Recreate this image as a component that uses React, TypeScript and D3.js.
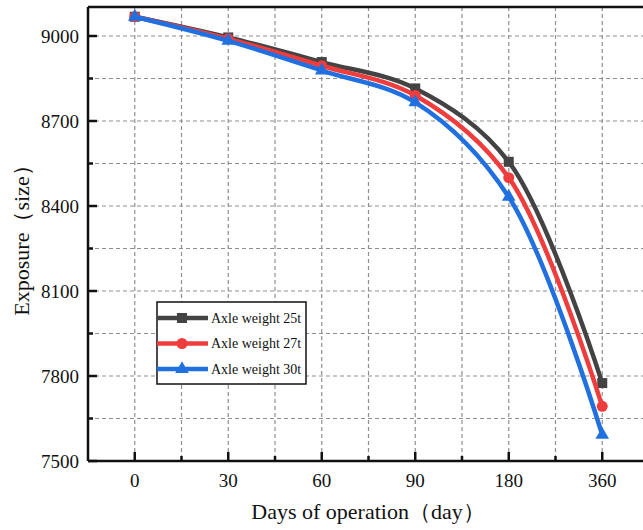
import React from "react";
import * as d3 from "d3";

const days = ["0", "30", "60", "90", "180", "360"];
const weight25 = [9068, 8995, 8908, 8815, 8556, 7775];
const weight27 = [9068, 8990, 8895, 8790, 8500, 7693];
const weight30 = [9068, 8983, 8878, 8766, 8432, 7592];
const seriesNames = ["Axle weight 25t", "Axle weight 27t", "Axle weight 30t"];
const yMajorTicks = [7500, 7800, 8100, 8400, 8700, 9000];

const W = 643;
const H = 530;

export default function App() {
  const x = d3.scaleLinear().domain([-0.5, 5.5]).range([88, 649]);
  const y = d3.scaleLinear().domain([7500, 9000]).range([461, 36]);
  const yTop = y(9102);

  const series = [
    { name: seriesNames[0], values: weight25, color: "#434343", marker: "square" },
    { name: seriesNames[1], values: weight27, color: "#ef3d3d", marker: "circle" },
    { name: seriesNames[2], values: weight30, color: "#2170e0", marker: "triangle" },
  ];

  const line = d3
    .line<number>()
    .x((_, i) => x(i))
    .y((d) => y(d))
    .curve(d3.curveCatmullRom.alpha(0.5));

  const gridY = d3.range(7650, 9001, 150);
  const gridX = d3.range(0, 5.01, 0.5);
  const minorY = d3.range(7650, 9001, 300);
  const minorX = d3.range(0.5, 5, 1);

  const marker = (type: string, cx: number, cy: number, color: string, key: string) => {
    if (type === "square")
      return <rect key={key} x={cx - 5} y={cy - 5} width={10} height={10} fill={color} />;
    if (type === "circle") return <circle key={key} cx={cx} cy={cy} r={5.5} fill={color} />;
    const sym = d3.symbol().type(d3.symbolTriangle).size(80)();
    return <path key={key} d={sym || ""} transform={`translate(${cx},${cy})`} fill={color} />;
  };

  const font = "'Liberation Serif', 'Times New Roman', serif";
  const legendX = 157;
  const legendY = 302;

  return (
    <svg
      width={W}
      height={H}
      style={{ position: "absolute", left: 0, top: 0, background: "white" }}
      fontFamily={font}
    >
      {/* grid */}
      <g stroke="#8f8f8f" strokeWidth={1.2} strokeDasharray="4,3">
        {gridY.map((v) => (
          <line key={"gy" + v} x1={x(-0.5)} x2={W} y1={y(v)} y2={y(v)} />
        ))}
        {gridX.map((v) => (
          <line key={"gx" + v} x1={x(v)} x2={x(v)} y1={yTop} y2={y(7500)} />
        ))}
      </g>

      {/* frame */}
      <line x1={x(-0.5)} x2={W} y1={yTop} y2={yTop} stroke="#111" strokeWidth={2.5} />
      <line x1={x(-0.5)} x2={W} y1={y(7500)} y2={y(7500)} stroke="#111" strokeWidth={2.5} />
      <line x1={x(-0.5)} x2={x(-0.5)} y1={yTop} y2={y(7500)} stroke="#111" strokeWidth={2.5} />

      {/* y ticks */}
      {yMajorTicks.map((v) => (
        <g key={"yt" + v}>
          <line x1={x(-0.5)} x2={x(-0.5) + 9} y1={y(v)} y2={y(v)} stroke="#111" strokeWidth={2.5} />
          <text x={79} y={y(v)} dy="0.35em" textAnchor="end" fontSize={19} fill="#111">
            {v}
          </text>
        </g>
      ))}
      {minorY.map((v) => (
        <line key={"ym" + v} x1={x(-0.5)} x2={x(-0.5) + 5} y1={y(v)} y2={y(v)} stroke="#111" strokeWidth={2.5} />
      ))}

      {/* x ticks */}
      {days.map((d, i) => (
        <g key={"xt" + d}>
          <line x1={x(i)} x2={x(i)} y1={y(7500)} y2={y(7500) - 9} stroke="#111" strokeWidth={2.5} />
          <text x={x(i)} y={487} textAnchor="middle" fontSize={19} fill="#111">
            {d}
          </text>
        </g>
      ))}
      {minorX.map((v) => (
        <line key={"xm" + v} x1={x(v)} x2={x(v)} y1={y(7500)} y2={y(7500) - 5} stroke="#111" strokeWidth={2.5} />
      ))}

      {/* series */}
      {series.map((s) => (
        <g key={s.name}>
          <path d={line(s.values) || ""} fill="none" stroke={s.color} strokeWidth={4.5} />
          {s.values.map((v, i) => marker(s.marker, x(i), y(v), s.color, s.name + i))}
        </g>
      ))}

      {/* legend */}
      <rect x={legendX} y={legendY} width={149} height={82} fill="white" stroke="#111" strokeWidth={1.5} />
      {series.map((s, i) => {
        const ly = legendY + 16 + i * 25.5;
        return (
          <g key={"lg" + s.name}>
            <line x1={legendX} x2={legendX + 51} y1={ly} y2={ly} stroke={s.color} strokeWidth={4.5} />
            {marker(s.marker, legendX + 25, ly, s.color, "lm" + i)}
            <text x={legendX + 54} y={ly} dy="0.35em" fontSize={14} fill="#111">
              {s.name}
            </text>
          </g>
        );
      })}

      {/* axis titles */}
      <text x={368} y={519} textAnchor="middle" fontSize={22} fill="#111">
        Days of operation（day）
      </text>
      <text
        transform={`translate(29,235) rotate(-90)`}
        textAnchor="middle"
        fontSize={22}
        fill="#111"
      >
        Exposure（size）
      </text>
    </svg>
  );
}
